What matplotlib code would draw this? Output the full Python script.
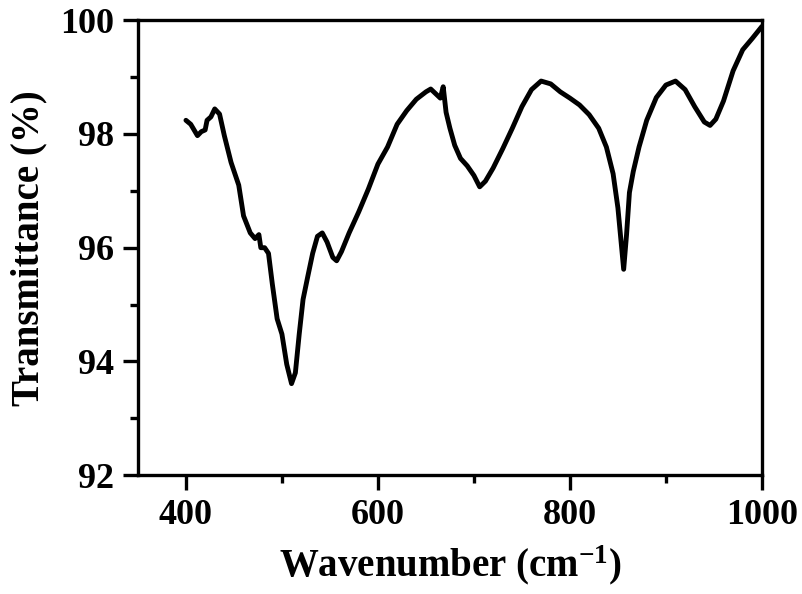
import matplotlib
matplotlib.use("Agg")
import matplotlib.pyplot as plt
from matplotlib.ticker import MultipleLocator

wavenumber = [400, 405, 412, 416, 420, 422, 426, 430, 435, 440, 447, 455, 460, 467, 472, 476, 478,
              482, 486, 490, 495, 500, 505, 510, 514, 518, 522, 527, 532, 537, 542, 547, 553, 557,
              562, 570, 580, 590, 600, 610, 620, 630, 640, 650, 655, 660, 665, 668, 671, 675, 680,
              686, 693, 700, 706, 712, 720, 730, 740, 750, 760, 770, 780, 790, 800, 810, 820, 830,
              838, 845, 850, 853, 856, 859, 862, 866, 872, 880, 890, 900, 910, 920, 930, 940, 946,
              952, 960, 970, 980, 990, 1000]
transmittance = [98.24, 98.17, 97.97, 98.04, 98.07, 98.24, 98.30, 98.44, 98.35, 97.97, 97.50, 97.10,
                 96.56, 96.26, 96.16, 96.23, 96.00, 96.00, 95.90, 95.36, 94.75, 94.48, 93.95, 93.61,
                 93.80, 94.48, 95.09, 95.50, 95.90, 96.20, 96.26, 96.10, 95.83, 95.77, 95.93, 96.26,
                 96.63, 97.03, 97.47, 97.77, 98.17, 98.41, 98.61, 98.74, 98.79, 98.71, 98.63, 98.83,
                 98.38, 98.10, 97.80, 97.57, 97.44, 97.27, 97.07, 97.17, 97.40, 97.74, 98.10, 98.48,
                 98.78, 98.93, 98.88, 98.74, 98.63, 98.51, 98.34, 98.10, 97.77, 97.30, 96.70, 96.16,
                 95.62, 96.23, 96.97, 97.34, 97.77, 98.24, 98.64, 98.86, 98.93, 98.78, 98.48, 98.21,
                 98.15, 98.26, 98.58, 99.11, 99.48, 99.68, 99.89]

x_ticks = [400, 600, 800, 1000]
y_ticks = [92, 94, 96, 98, 100]

plt.rcParams['font.family'] = ['Liberation Serif', 'DejaVu Serif']
plt.rcParams['font.weight'] = 'bold'
plt.rcParams['mathtext.fontset'] = 'custom'
plt.rcParams['mathtext.rm'] = 'Liberation Serif:bold'
plt.rcParams['mathtext.it'] = 'Liberation Serif:bold'
plt.rcParams['mathtext.bf'] = 'Liberation Serif:bold'
plt.rcParams['mathtext.default'] = 'bf'

fig = plt.figure(figsize=(8.02, 5.94), dpi=100)
ax = fig.add_axes([0.172, 0.2, 0.778, 0.766])
ax.plot(wavenumber, transmittance, color='black', lw=3.5,
        solid_joinstyle='round', solid_capstyle='round')
ax.set_xlim(350, 1000)
ax.set_ylim(92, 100)
ax.set_xticks(x_ticks)
ax.set_yticks(y_ticks)
ax.xaxis.set_minor_locator(MultipleLocator(100))
ax.yaxis.set_minor_locator(MultipleLocator(1))
for s in ax.spines.values():
    s.set_linewidth(2.4)
ax.tick_params(which='major', direction='out', length=11, width=2.4, labelsize=26, pad=6)
ax.tick_params(which='minor', direction='out', length=6, width=2.4)
for lab in ax.get_xticklabels() + ax.get_yticklabels():
    lab.set_fontweight('bold')
ax.set_xlabel('Wavenumber (cm$^{-1}$)', fontsize=28, fontweight='bold', labelpad=8)
ax.set_ylabel('Transmittance (%)', fontsize=28, fontweight='bold', labelpad=9)
fig.savefig('out.png', dpi=100)
